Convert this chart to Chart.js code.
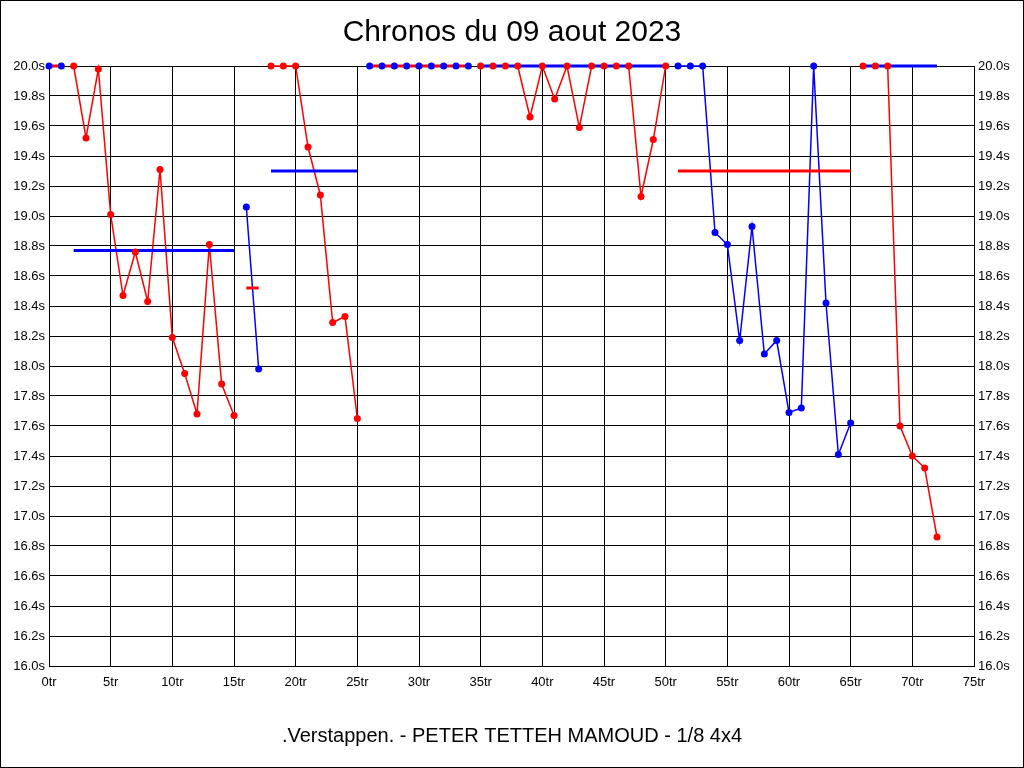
<!DOCTYPE html>
<html>
<head>
<meta charset="utf-8">
<script src="https://cdn.jsdelivr.net/npm/chart.js@4.4.0/dist/chart.umd.min.js"></script>
<style>
  html, body { margin: 0; padding: 0; background: #fff; }
  #wrap { width: 1024px; height: 768px; position: relative; }
</style>
</head>
<body>
<div id="wrap"><canvas id="c" width="1024" height="768"></canvas></div>
<script>
// ---- data ----
const titleText = "Chronos du 09 aout 2023";
const subtitleText = ".Verstappen. - PETER TETTEH MAMOUD - 1/8 4x4";
// lap times (s), index = lap number (tr)
const lapTimes = [
  20.0, 20.0, 20.0, 19.52, 19.98, 19.01, 18.47, 18.76, 18.43, 19.31,
  18.19, 17.95, 17.68, 18.81, 17.88, 17.67, 19.06, 17.98, 20.0, 20.0,
  20.0, 19.46, 19.14, 18.29, 18.33, 17.65, 20.0, 20.0, 20.0, 20.0,
  20.0, 20.0, 20.0, 20.0, 20.0, 20.0, 20.0, 20.0, 20.0, 19.66,
  20.0, 19.78, 20.0, 19.59, 20.0, 20.0, 20.0, 20.0, 19.13, 19.51,
  20.0, 20.0, 20.0, 20.0, 18.89, 18.81, 18.17, 18.93, 18.08, 18.17,
  17.69, 17.72, 20.0, 18.42, 17.41, 17.62, 20.0, 20.0, 20.0, 17.60,
  17.40, 17.32, 16.86
];
// relay segments
const segStart = [0, 2, 16, 18, 26, 35, 51, 66];
const segEnd   = [1, 15, 17, 25, 34, 50, 65, 72];
const segColor = ["#0000ff", "#ff0000", "#0000ff", "#ff0000", "#0000ff", "#ff0000", "#0000ff", "#ff0000"];
const avgColor = ["#ff0000", "#0000ff", "#ff0000", "#0000ff", "#ff0000", "#0000ff", "#ff0000", "#0000ff"];
const segAvg   = [20.0, 18.77, 18.52, 19.30, 20.0, 20.0, 19.30, 20.0];
// axes
const xMin = 0, xMax = 75, xStep = 5;
const yMin = 16, yMax = 20, yStep = 0.2;

// ---- build datasets ----
const lineSets = [], avgSets = [], pointSets = [];
for (let s = 0; s < segStart.length; s++) {
  const pts = [];
  for (let i = segStart[s]; i <= segEnd[s]; i++) pts.push({ x: i, y: lapTimes[i] });
  lineSets.push({
    data: pts, borderColor: segColor[s], borderWidth: 1.5,
    pointRadius: 0, tension: 0, order: 3, clip: false
  });
  pointSets.push({
    data: pts, showLine: false, pointRadius: 3.5, pointBorderWidth: 0,
    pointBackgroundColor: segColor[s], pointBorderColor: segColor[s],
    order: 1, clip: false
  });
  avgSets.push({
    data: [{ x: segStart[s], y: segAvg[s] }, { x: segEnd[s], y: segAvg[s] }],
    borderColor: avgColor[s], borderWidth: 3, pointRadius: 0,
    tension: 0, order: 2, clip: false, borderCapStyle: 'butt'
  });
}

const frame = {
  id: 'frame',
  beforeDraw(chart) {
    const ctx = chart.ctx;
    ctx.save();
    ctx.fillStyle = '#fff';
    ctx.fillRect(0, 0, chart.width, chart.height);
    ctx.restore();
  },
  afterDraw(chart) {
    const ctx = chart.ctx;
    ctx.save();
    ctx.strokeStyle = '#000';
    ctx.lineWidth = 1;
    ctx.strokeRect(0.5, 0.5, chart.width - 1, chart.height - 1);
    ctx.restore();
  }
};

const tickFont = { family: "'Liberation Sans', Arial, sans-serif", size: 13 };
const yTickCb = v => Number(v).toFixed(1) + 's';

new Chart(document.getElementById('c'), {
  type: 'line',
  data: { datasets: [...lineSets, ...avgSets, ...pointSets] },
  options: {
    responsive: false,
    animation: false,
    layout: { padding: 0 },
    plugins: {
      legend: { display: false },
      tooltip: { enabled: false },
      title: {
        display: true, text: titleText, color: '#000',
        font: { family: "'Liberation Sans', Arial, sans-serif", size: 30, weight: 'normal', lineHeight: 1.2 },
        padding: { top: 15, bottom: 15 }
      },
      subtitle: {
        display: true, text: subtitleText, position: 'bottom', color: '#000',
        font: { family: "'Liberation Sans', Arial, sans-serif", size: 20, weight: 'normal', lineHeight: 1.2 },
        padding: { top: 18, bottom: 20 }
      }
    },
    scales: {
      x: {
        type: 'linear', min: xMin, max: xMax,
        ticks: { stepSize: xStep, color: '#000', font: tickFont, padding: 9, maxRotation: 0,
                 callback: v => v + 'tr' },
        grid: { color: '#000', lineWidth: 1, drawTicks: false },
        border: { color: '#000', width: 1 },
        afterFit(scale) { scale.height = 40; }
      },
      y: {
        type: 'linear', position: 'left', min: yMin, max: yMax,
        ticks: { stepSize: yStep, color: '#000', font: tickFont, padding: 4, callback: yTickCb },
        grid: { color: '#000', lineWidth: 1, drawTicks: false },
        border: { color: '#000', width: 1 },
        afterFit(scale) { scale.width = 49; }
      },
      y2: {
        type: 'linear', position: 'right', min: yMin, max: yMax,
        ticks: { stepSize: yStep, color: '#000', font: tickFont, padding: 4, callback: yTickCb },
        grid: { drawOnChartArea: false, drawTicks: false },
        border: { color: '#000', width: 1 },
        afterFit(scale) { scale.width = 50; }
      }
    }
  },
  plugins: [frame]
});
</script>
</body>
</html>
